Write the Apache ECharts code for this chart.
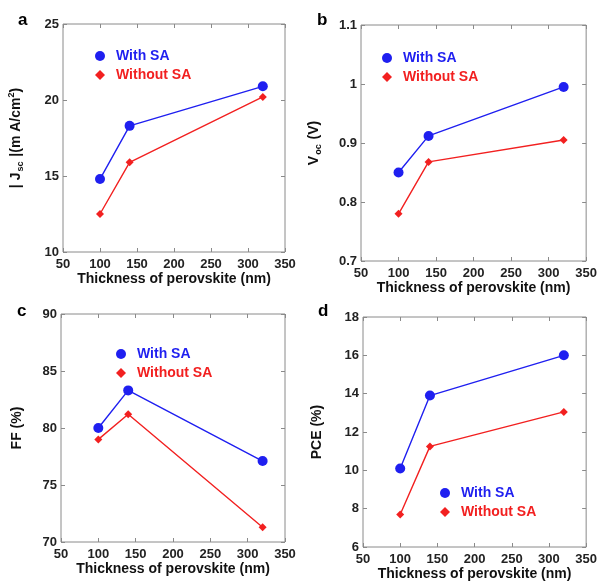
<!DOCTYPE html>
<html>
<head>
<meta charset="utf-8">
<script src="https://cdn.jsdelivr.net/npm/echarts@6/dist/echarts.min.js"></script>
<style>
  html, body { margin: 0; padding: 0; background: #fff; }
  #chart { width: 600px; height: 582px; }
</style>
</head>
<body>
<div id="chart"></div>
<script>
// data
var thickness = [100, 140, 320]
var jscWith = [14.8, 18.3, 20.9]
var jscWithout = [12.5, 15.9, 20.2]
var vocWith = [0.85, 0.912, 0.995]
var vocWithout = [0.78, 0.868, 0.905]
var ffWith = [80.0, 83.3, 77.1]
var ffWithout = [79.0, 81.2, 71.3]
var pceWith = [10.1, 13.9, 16.0]
var pceWithout = [7.7, 11.25, 13.05]
var xTicks = [50, 350, 50]
var yTicks = [[10, 25, 5], [0.7, 1.1, 0.1], [70, 90, 5], [6, 18, 2]]
var panelLabels = ['a', 'b', 'c', 'd']
var seriesNames = ['With SA', 'Without SA']

var BLUE = '#1f1ff0'
var RED = '#f22020'
var FONT = 'Liberation Sans, Arial, Helvetica, sans-serif'

var panels = [
  { grid: { left: 63, top: 24, width: 222, height: 228 }, withSA: jscWith, withoutSA: jscWithout,
    yName: '{t|| J}{sub|sc}{t| |(m A/cm}{sup|2}{t|)}', yGap: 38, legend: { left: 90, top: 44 }, label: [18, 12] },
  { grid: { left: 361, top: 25, width: 226, height: 236 }, withSA: vocWith, withoutSA: vocWithout,
    yName: '{t|V}{sub|oc}{t| (V)}', yGap: 38, legend: { left: 377, top: 46 }, label: [317, 12] },
  { grid: { left: 61, top: 314, width: 224, height: 228 }, withSA: ffWith, withoutSA: ffWithout,
    yName: '{t|FF (%)}', yGap: 35, legend: { left: 111, top: 342 }, label: [17, 303] },
  { grid: { left: 363, top: 317, width: 224, height: 230 }, withSA: pceWith, withoutSA: pceWithout,
    yName: '{t|PCE (%)}', yGap: 37, legend: { left: 435, top: 481 }, label: [318, 303] }
]

var nameRich = {
  t: { fontFamily: FONT, fontSize: 14, fontWeight: 'bold', color: '#111', lineHeight: 18 },
  sub: { fontFamily: FONT, fontSize: 9, fontWeight: 'bold', color: '#111', verticalAlign: 'bottom', lineHeight: 18, padding: [0, 1, 0, 1] },
  sup: { fontFamily: FONT, fontSize: 9, fontWeight: 'bold', color: '#111', verticalAlign: 'top', lineHeight: 18 }
}

var option = {
  animation: false,
  backgroundColor: '#fff',
  grid: [],
  xAxis: [],
  yAxis: [],
  legend: [],
  series: [],
  graphic: []
}

panels.forEach(function (p, i) {
  option.grid.push(Object.assign({ show: true, borderColor: '#8a8a8a', borderWidth: 1 }, p.grid))
  var tickStyle = { show: true, inside: true, length: 4, lineStyle: { color: '#8a8a8a' } }
  // bottom x axis
  option.xAxis.push({
    type: 'value', gridIndex: i, min: xTicks[0], max: xTicks[1], interval: xTicks[2],
    position: 'bottom',
    axisLine: { show: false }, axisTick: tickStyle, splitLine: { show: false },
    axisLabel: { color: '#222', fontFamily: FONT, fontSize: 13, fontWeight: 'bold', margin: 6 },
    name: 'Thickness of perovskite (nm)', nameLocation: 'middle', nameGap: 19,
    nameTextStyle: { color: '#111', fontFamily: FONT, fontSize: 14, fontWeight: 'bold' }
  })
  // top x axis (ticks only)
  option.xAxis.push({
    type: 'value', gridIndex: i, min: xTicks[0], max: xTicks[1], interval: xTicks[2],
    position: 'top', axisLine: { show: false }, axisTick: tickStyle,
    axisLabel: { show: false }, splitLine: { show: false }
  })
  var yr = yTicks[i]
  option.yAxis.push({
    type: 'value', gridIndex: i, min: yr[0], max: yr[1], interval: yr[2],
    position: 'left',
    axisLine: { show: false }, axisTick: tickStyle, splitLine: { show: false },
    axisLabel: { color: '#222', fontFamily: FONT, fontSize: 13, fontWeight: 'bold', margin: 4 },
    name: p.yName, nameLocation: 'middle', nameGap: p.yGap, nameRotate: 90,
    nameTextStyle: { rich: nameRich }
  })
  option.yAxis.push({
    type: 'value', gridIndex: i, min: yr[0], max: yr[1], interval: yr[2],
    position: 'right', axisLine: { show: false }, axisTick: tickStyle,
    axisLabel: { show: false }, splitLine: { show: false }
  })

  option.series.push({
    name: seriesNames[0], type: 'line', xAxisIndex: i * 2, yAxisIndex: i * 2,
    data: thickness.map(function (t, k) { return [t, p.withSA[k]] }),
    symbol: 'circle', symbolSize: 10,
    itemStyle: { color: BLUE }, lineStyle: { color: BLUE, width: 1.4 }
  })
  option.series.push({
    name: seriesNames[1], type: 'line', xAxisIndex: i * 2, yAxisIndex: i * 2,
    data: thickness.map(function (t, k) { return [t, p.withoutSA[k]] }),
    symbol: 'diamond', symbolSize: 8,
    itemStyle: { color: RED }, lineStyle: { color: RED, width: 1.4 }
  })

  option.legend.push({
    left: p.legend.left, top: p.legend.top, orient: 'vertical',
    itemWidth: 10, itemHeight: 10, itemGap: 5, selectedMode: false,
    textStyle: { fontFamily: FONT, fontSize: 14, fontWeight: 'bold', padding: [0, 0, 0, 6] },
    data: [
      { name: seriesNames[0], icon: 'circle', textStyle: { color: BLUE } },
      { name: seriesNames[1], icon: 'diamond', textStyle: { color: RED } }
    ]
  })

  option.graphic.push({
    type: 'text', left: p.label[0], top: p.label[1],
    style: { text: panelLabels[i], font: 'bold 17px ' + FONT, fill: '#000' }
  })
})

var myChart = echarts.init(document.getElementById('chart'))
myChart.setOption(option)
</script>
</body>
</html>
